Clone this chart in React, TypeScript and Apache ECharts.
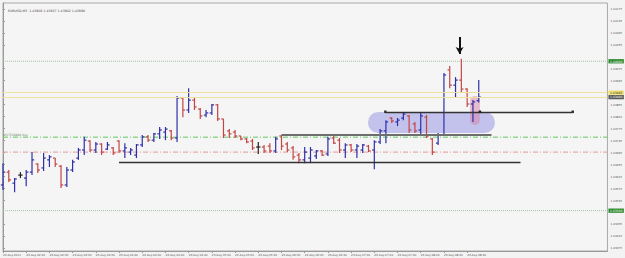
import React, { useEffect, useRef } from "react";
import * as echarts from "echarts";

const headerText = "EURUSD,M5  1.43868 1.43937 1.43862 1.43880";

const timeLabels = [
  "23 Aug 2011", "23 Aug 02:20", "23 Aug 02:40", "23 Aug 03:00", "23 Aug 03:20",
  "23 Aug 03:40", "23 Aug 04:00", "23 Aug 04:20", "23 Aug 04:40", "23 Aug 05:00",
  "23 Aug 05:20", "23 Aug 05:40", "23 Aug 06:00", "23 Aug 06:20", "23 Aug 06:40",
  "23 Aug 07:00", "23 Aug 07:20", "23 Aug 07:40", "23 Aug 08:00", "23 Aug 08:20",
  "23 Aug 08:40",
];

const opens = [
  1.43586, 1.43629, 1.43592, 1.43619, 1.43609, 1.43629, 1.43656, 1.43643, 1.4367, 1.43676,
  1.43649, 1.43586, 1.43636, 1.43676, 1.43703, 1.43733, 1.43703, 1.43723, 1.43706, 1.4371,
  1.43733, 1.437, 1.43696, 1.43686, 1.4372, 1.43747, 1.43736, 1.43757, 1.43763, 1.43767,
  1.43743, 1.43877, 1.43837, 1.4387, 1.4384, 1.4382, 1.43827, 1.43854, 1.43807, 1.43767,
  1.43763, 1.4375, 1.4374, 1.43733, 1.43713, 1.43713, 1.43716, 1.437, 1.4375, 1.43723,
  1.4371, 1.43686, 1.4367, 1.43676, 1.43683, 1.437, 1.4369, 1.43743, 1.43736, 1.43703,
  1.4372, 1.43703, 1.43703, 1.43716, 1.43703, 1.4373, 1.43767, 1.4381, 1.43797, 1.4381,
  1.43817, 1.4379, 1.4377, 1.43813, 1.4374, 1.43726, 1.43753, 1.43971, 1.4392, 1.43937,
  1.43907, 1.43857, 1.43868,
];
const highs = [
  1.43659, 1.43636, 1.43609, 1.43629, 1.43636, 1.43696, 1.43659, 1.43693, 1.43686, 1.43676,
  1.43653, 1.43646, 1.4367, 1.4371, 1.43747, 1.43736, 1.4373, 1.43726, 1.4373, 1.43713,
  1.43736, 1.43726, 1.4371, 1.43723, 1.43753, 1.43753, 1.4376, 1.4378, 1.4378, 1.4377,
  1.43884, 1.4388, 1.4391, 1.43877, 1.43844, 1.43837, 1.43857, 1.43857, 1.43807, 1.43773,
  1.4377, 1.4375, 1.43743, 1.4374, 1.4373, 1.4372, 1.43726, 1.43747, 1.43753, 1.4373,
  1.43716, 1.43693, 1.43713, 1.43713, 1.43703, 1.43703, 1.43747, 1.4375, 1.43743, 1.43726,
  1.43723, 1.43723, 1.43723, 1.4372, 1.43736, 1.43773, 1.43803, 1.43813, 1.4381, 1.4383,
  1.4382, 1.43797, 1.43827, 1.4382, 1.43743, 1.4376, 1.43961, 1.43984, 1.43947, 1.44008,
  1.4391, 1.4387, 1.43937,
];
const lows = [
  1.43569, 1.43596, 1.43562, 1.43609, 1.43582, 1.43619, 1.43626, 1.43633, 1.43646, 1.43646,
  1.43576, 1.43579, 1.43629, 1.4367, 1.43686, 1.43696, 1.43693, 1.43686, 1.43703, 1.43686,
  1.43693, 1.43676, 1.43686, 1.43676, 1.43713, 1.4373, 1.4373, 1.4374, 1.43736, 1.43736,
  1.4373, 1.43813, 1.43827, 1.43837, 1.43807, 1.43813, 1.4382, 1.438, 1.43743, 1.43743,
  1.43743, 1.43736, 1.43726, 1.43703, 1.4369, 1.43693, 1.43693, 1.43693, 1.43703, 1.43696,
  1.4367, 1.43659, 1.43659, 1.43659, 1.43673, 1.43683, 1.43683, 1.43723, 1.43693, 1.43676,
  1.43696, 1.43676, 1.43693, 1.43696, 1.43639, 1.43723, 1.43726, 1.43793, 1.43783, 1.43803,
  1.4376, 1.4376, 1.4375, 1.43743, 1.43686, 1.4372, 1.43753, 1.4391, 1.43877, 1.43897,
  1.43847, 1.43797, 1.43862,
];
const closes = [
  1.43629, 1.43603, 1.43606, 1.43619, 1.43629, 1.4367, 1.43636, 1.43676, 1.4368, 1.43656,
  1.43586, 1.43636, 1.43663, 1.43703, 1.43736, 1.43703, 1.43723, 1.43696, 1.4372, 1.43693,
  1.437, 1.4371, 1.43703, 1.4372, 1.43747, 1.43736, 1.43757, 1.4377, 1.43773, 1.43743,
  1.43877, 1.43837, 1.4387, 1.43847, 1.43817, 1.43827, 1.43854, 1.43807, 1.43753, 1.43757,
  1.4375, 1.4374, 1.4373, 1.4371, 1.43713, 1.437, 1.437, 1.4374, 1.43716, 1.43703,
  1.4368, 1.4367, 1.43696, 1.43703, 1.437, 1.43686, 1.4374, 1.43726, 1.43703, 1.4372,
  1.43703, 1.43716, 1.4372, 1.437, 1.4373, 1.43767, 1.43797, 1.438, 1.43803, 1.43823,
  1.4377, 1.43767, 1.43817, 1.4375, 1.43696, 1.43753, 1.43954, 1.4392, 1.43937, 1.43907,
  1.43857, 1.43864, 1.4388,
];

const priceTicks = [
  1.43375, 1.43415, 1.43455, 1.43535, 1.43575, 1.43615, 1.43655, 1.43695, 1.43735,
  1.43775, 1.43815, 1.43855, 1.43935, 1.43975, 1.44055, 1.44095, 1.44135, 1.44175,
];

const X_MIN = 0;
const X_MAX = 104.18;

const roundLevels = [1.44, 1.435];
const resistanceLevel = 1.43895;
const bidLevel = 1.4388;
const buyLevel = 1.43746;
const buyLabel = "#37528984 buy";
const stopLevel = 1.43696;

// trend segments: [startBar, endBar, price]
const supportLine = [20, 89.2, 1.43661];
const rangeTopLine = [48, 84.2, 1.43755];
const breakoutLine = [65.9, 98.2, 1.43831];
const breakoutMid = [82.2, 1.43831];

// highlighted zones: [bar1, price1, bar2, price2]
const zones = [
  [62.9, 1.4383, 84.8, 1.4376],
  [80.5, 1.43884, 82.2, 1.43787],
];

// arrows: [bar1, price1, bar2, price2]
const arrowTop = [78.7, 1.44081, 78.7, 1.44024];
const arrowAxis = [102.1, 1.44045, 104.3, 1.44003];

const BULL = "#2f2fa8";
const BEAR = "#c44545";
const DOJI = "#222222";
const FONT = "DejaVu Sans, Liberation Sans, sans-serif";
const HIDDEN_LINE = { color: "rgba(0,0,0,0)", width: 0 };

export default function App() {
  const ref = useRef<HTMLDivElement>(null);

  useEffect(() => {
    if (!ref.current) return;
    const chart = echarts.init(ref.current, undefined, { renderer: "svg" });
    const ohlcData = opens.map((o, i) => [i, o, highs[i], lows[i], closes[i]]);

    const levelLabel = (bg: string, fg: string, text: string) => ({
      show: true,
      position: "end",
      formatter: text,
      backgroundColor: bg,
      color: fg,
      fontSize: 3,
      fontFamily: FONT,
      padding: [0.8, 1.5, 0.5, 1.5],
      distance: 1,
    });

    const hLine = (price: number, lineStyle: any, label: any) => [
      { coord: [X_MIN, price], lineStyle, label },
      { coord: [X_MAX, price] },
    ];

    const levelSeries = (price: number, color: string, type: any) => ({
      type: "line",
      z: 2,
      silent: true,
      symbol: "none",
      data: [
        [X_MIN, price],
        [X_MAX, price],
      ],
      lineStyle: { color, width: 1, type },
      itemStyle: { color },
    });

    const option: any = {
      animation: false,
      backgroundColor: "#f3f3f3",
      title: {
        text: headerText,
        left: 3,
        top: 4,
        textStyle: { fontSize: 3.2, fontWeight: "normal", color: "#444", fontFamily: FONT },
      },
      grid: {
        left: 1.7,
        right: 17,
        top: 3,
        bottom: 7,
        show: true,
        backgroundColor: "#f5f5f5",
        borderColor: "#a8a8a8",
        borderWidth: 1,
      },
      xAxis: {
        type: "value",
        min: X_MIN,
        max: X_MAX,
        interval: 4,
        axisLine: { show: true, lineStyle: { color: "#999" } },
        axisTick: { show: true, length: 2, lineStyle: { color: "#999" }, customValues: timeLabels.map((_, k) => k * 4) },
        splitLine: { show: false },
        axisLabel: {
          customValues: timeLabels.map((_, k) => k * 4),
          formatter: (v: number) => timeLabels[Math.round(v / 4)] ?? "",
          fontSize: 2.8,
          color: "#555",
          fontFamily: FONT,
          align: "left",
          margin: 2,
        },
      },
      yAxis: {
        type: "value",
        position: "right",
        min: 1.43365,
        max: 1.44195,
        axisLine: { show: true, lineStyle: { color: "#999" } },
        axisTick: { show: true, length: 2, lineStyle: { color: "#999" }, customValues: priceTicks },
        splitLine: { show: false },
        axisLabel: {
          customValues: priceTicks,
          formatter: (v: number) => v.toFixed(5),
          fontSize: 2.8,
          color: "#555",
          fontFamily: FONT,
          margin: 3,
        },
      },
      series: [
        {
          type: "custom",
          z: 1,
          silent: true,
          data: zones.map((z, i) => [...z, i]),
          renderItem: (_p: any, api: any) => {
            const a = api.coord([api.value(0), api.value(1)]);
            const b = api.coord([api.value(2), api.value(3)]);
            const w = b[0] - a[0];
            const h = b[1] - a[1];
            const idx = api.value(4);
            return {
              type: "rect",
              shape: { x: a[0], y: a[1], width: w, height: h, r: Math.min(w, h) / 2 },
              style: { fill: idx === 0 ? "rgba(125,125,225,0.42)" : "rgba(215,130,165,0.5)" },
            };
          },
        },
        levelSeries(roundLevels[0], "#a3c2a3", "dotted"),
        levelSeries(roundLevels[1], "#a3c2a3", "dotted"),
        levelSeries(buyLevel, "#62c862", [5, 2, 1, 2]),
        levelSeries(stopLevel, "#e29a9a", [5, 2, 1, 2]),
        {
          type: "line",
          z: 2,
          silent: true,
          data: [],
          markLine: {
            silent: true,
            symbol: "none",
            animation: false,
            data: [
              hLine(roundLevels[0], HIDDEN_LINE, levelLabel("#2e8b2e", "#fff", roundLevels[0].toFixed(5))),
              hLine(roundLevels[1], HIDDEN_LINE, levelLabel("#2e8b2e", "#fff", roundLevels[1].toFixed(5))),
              hLine(resistanceLevel, { color: "#efe09c", type: "solid", width: 1 }, levelLabel("#f0e070", "#333", resistanceLevel.toFixed(5))),
              hLine(bidLevel, { color: "#efe09c", type: "solid", width: 1 }, levelLabel("#5a5a5a", "#fff", bidLevel.toFixed(5))),
              hLine(
                buyLevel,
                HIDDEN_LINE,
                { show: true, position: "insideStartTop", formatter: buyLabel, fontSize: 3, color: "#6a8a6a", fontFamily: FONT, distance: 0.5 }
              ),
              [
                { coord: [supportLine[0], supportLine[2]], lineStyle: { color: "#333", width: 1.3, type: "solid" }, label: { show: false } },
                { coord: [supportLine[1], supportLine[2]] },
              ],
              [
                { coord: [rangeTopLine[0], rangeTopLine[2]], lineStyle: { color: "#6e6e6e", width: 1.8, type: "solid" }, label: { show: false } },
                { coord: [rangeTopLine[1], rangeTopLine[2]] },
              ],
              [
                { coord: [breakoutLine[0], breakoutLine[2]], symbol: "rect", symbolSize: 2.5, lineStyle: { color: "#333", width: 1.3, type: "solid" }, label: { show: false } },
                { coord: [breakoutLine[1], breakoutLine[2]], symbol: "rect", symbolSize: 2.5 },
              ],
              [
                { coord: [arrowTop[0], arrowTop[1]], symbol: "none", lineStyle: { color: "#111", width: 2, type: "solid" }, label: { show: false } },
                { coord: [arrowTop[2], arrowTop[3]], symbol: "arrow", symbolSize: [6, 7] },
              ],
              [
                { coord: [arrowAxis[0], arrowAxis[1]], symbol: "none", lineStyle: { color: "#111", width: 1.5, type: "solid" }, label: { show: false } },
                { coord: [arrowAxis[2], arrowAxis[3]], symbol: "arrow", symbolSize: [5, 6] },
              ],
            ],
          },
          markPoint: {
            silent: true,
            symbol: "rect",
            symbolSize: 2.5,
            itemStyle: { color: "#222" },
            label: { show: false },
            data: [{ coord: breakoutMid }],
          },
        },
        {
          type: "custom",
          z: 3,
          silent: true,
          data: ohlcData,
          encode: { x: 0, y: [1, 2, 3, 4] },
          renderItem: (_p: any, api: any) => {
            const i = api.value(0);
            const o = api.value(1);
            const h = api.value(2);
            const l = api.value(3);
            const c = api.value(4);
            const pt = api.coord([i, h]);
            const pb = api.coord([i, l]);
            const po = api.coord([i, o]);
            const pc = api.coord([i, c]);
            const color = c > o ? BULL : c < o ? BEAR : DOJI;
            const x = pt[0];
            const style = { stroke: color, lineWidth: 1.2 };
            return {
              type: "group",
              children: [
                { type: "line", shape: { x1: x, y1: pt[1], x2: x, y2: pb[1] }, style },
                { type: "line", shape: { x1: x - 2.2, y1: po[1], x2: x, y2: po[1] }, style },
                { type: "line", shape: { x1: x, y1: pc[1], x2: x + 2.2, y2: pc[1] }, style },
              ],
            };
          },
        },
      ],
    };
    chart.setOption(option);
    return () => chart.dispose();
  }, []);

  return (
    <div
      ref={ref}
      style={{ position: "fixed", left: 0, top: 0, width: 625, height: 258, background: "#f3f3f3" }}
    />
  );
}
